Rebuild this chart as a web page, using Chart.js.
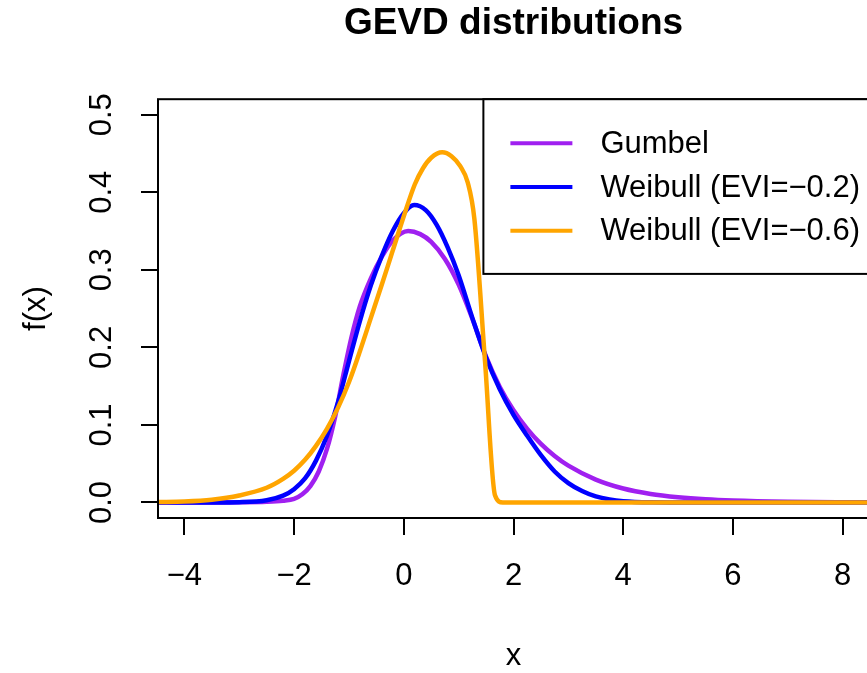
<!DOCTYPE html>
<html>
<head>
<meta charset="utf-8">
<title>GEVD distributions</title>
<script src="https://cdn.jsdelivr.net/npm/chart.js@4/dist/chart.umd.min.js"></script>
<style>
  html, body { margin: 0; padding: 0; background: #ffffff; overflow: hidden; }
  #wrap { width: 880px; height: 673px; position: relative; }
</style>
</head>
<body>
<div id="wrap"><canvas id="c" width="880" height="673"></canvas></div>
<script>
// Density curves of three GEV members
const seriesNames = ['Gumbel', 'Weibull (EVI=\u22120.2)', 'Weibull (EVI=\u22120.6)'];
const seriesColors = ['#A020F0', '#0000FF', '#FFA500'];

const gumbelX = [-4.5, -3.5, -3, -2.5, -2.2, -2, -1.85, -1.7, -1.55, -1.4,
                 -1.25, -1.1, -0.95, -0.8, -0.6, -0.4, -0.2, 0.08, 0.3, 0.5,
                 0.75, 1, 1.25, 1.5, 1.75, 2, 2.25, 2.5, 2.75, 3,
                 3.5, 4, 4.5, 5, 5.5, 6, 7, 8, 8.5];
const gumbelY = [0, 0, 0.0002, 0.0008, 0.0022, 0.0046, 0.0105, 0.0215, 0.040, 0.069,
                 0.111, 0.165, 0.214, 0.253, 0.289, 0.317, 0.338, 0.350, 0.346, 0.336,
                 0.314, 0.281, 0.237, 0.188, 0.149, 0.119, 0.095, 0.0755, 0.060, 0.0475,
                 0.0295, 0.018, 0.011, 0.0068, 0.0041, 0.0025, 0.0009, 0.0003, 0.0002];

const weibull02X = [-4.5, -3.5, -3, -2.5, -2.2, -2, -1.8, -1.6, -1.4, -1.2,
                    -1, -0.8, -0.6, -0.4, -0.2, 0, 0.19, 0.4, 0.6, 0.8,
                    1, 1.25, 1.5, 1.75, 2, 2.25, 2.5, 2.75, 3, 3.25,
                    3.5, 3.75, 4, 4.5, 5, 6, 7, 8, 8.5];
const weibull02Y = [0, 0.0001, 0.0004, 0.0028, 0.0088, 0.0172, 0.031, 0.054, 0.086, 0.129,
                    0.182, 0.234, 0.280, 0.318, 0.350, 0.373, 0.3835, 0.377, 0.358, 0.329,
                    0.293, 0.238, 0.187, 0.146, 0.113, 0.086, 0.061, 0.040, 0.025, 0.0148,
                    0.0078, 0.0038, 0.0016, 0.0002, 0, 0, 0, 0, 0];

const weibull06X = [-4.5, -4, -3.5, -3, -2.5, -2.2, -2, -1.8, -1.6, -1.4,
                    -1.2, -1, -0.8, -0.6, -0.4, -0.2, 0, 0.2, 0.35, 0.5,
                    0.7, 0.87, 1.03, 1.166, 1.287, 1.48, 1.664, 1.805, 2, 3,
                    4, 5, 6, 7, 8, 8.5];
const weibull06Y = [0.0005, 0.0012, 0.0035, 0.009, 0.019, 0.0305, 0.041, 0.055, 0.073, 0.095,
                    0.122, 0.155, 0.195, 0.238, 0.281, 0.325, 0.369, 0.410, 0.431, 0.4445,
                    0.4515, 0.4465, 0.4336, 0.4126, 0.3655, 0.183, 0.009, 0, 0, 0,
                    0, 0, 0, 0, 0, 0];

const xTicks = [-4, -2, 0, 2, 4, 6, 8];
const xTickLabels = ['\u22124', '\u22122', '0', '2', '4', '6', '8'];
const yTicks = [0, 0.1, 0.2, 0.3, 0.4, 0.5];
const yTickLabels = ['0.0', '0.1', '0.2', '0.3', '0.4', '0.5'];

const FONT = "'Liberation Sans', Arial, Helvetica, sans-serif";
const BASE = 31;

const toPoints = (xs, ys) => xs.map((x, i) => ({ x: x, y: ys[i] }));
const seriesData = [
  toPoints(gumbelX, gumbelY),
  toPoints(weibull02X, weibull02Y),
  toPoints(weibull06X, weibull06Y)
];

// frame around the plotting region plus an inset legend in the top-right corner
const frameAndLegend = {
  id: 'frameAndLegend',
  afterDatasetsDraw(chart) {
    const { ctx, chartArea: ca } = chart;
    ctx.save();
    ctx.strokeStyle = '#000';
    ctx.lineWidth = 2;
    ctx.strokeRect(ca.left, ca.top, ca.right - ca.left, ca.bottom - ca.top);

    ctx.font = BASE + 'px ' + FONT;
    const sets = chart.data.datasets;
    const textW = Math.max(...sets.map(d => ctx.measureText(d.label).width));
    const inset = 27, lineLen = 62, gap = 28, rightPad = 9;
    const topPad = 44, rowH = 43.8, bottomPad = 43.1;
    const w = inset + lineLen + gap + textW + rightPad;
    const h = topPad + rowH * (sets.length - 1) + bottomPad;
    const left = ca.right - w, top = ca.top;
    ctx.fillStyle = '#fff';
    ctx.fillRect(left, top, w, h);
    ctx.strokeRect(left, top, w, h);
    sets.forEach((d, i) => {
      const y = top + topPad + i * rowH;
      ctx.strokeStyle = d.borderColor;
      ctx.lineWidth = 4;
      ctx.lineCap = 'butt';
      ctx.beginPath();
      ctx.moveTo(left + inset, y);
      ctx.lineTo(left + inset + lineLen, y);
      ctx.stroke();
      ctx.fillStyle = '#000';
      ctx.textAlign = 'left';
      ctx.textBaseline = 'middle';
      ctx.fillText(d.label, left + inset + lineLen + gap, y + 1);
    });
    ctx.restore();
  }
};

new Chart(document.getElementById('c'), {
  type: 'line',
  data: {
    datasets: seriesNames.map((name, i) => ({
      label: name,
      data: seriesData[i],
      borderColor: seriesColors[i],
      backgroundColor: seriesColors[i],
      borderWidth: 4.5,
      pointRadius: 0,
      fill: false,
      cubicInterpolationMode: 'monotone',
      borderJoinStyle: 'round',
      borderCapStyle: 'round',
      order: 3 - i
    }))
  },
  options: {
    responsive: false,
    animation: false,
    devicePixelRatio: 1,
    layout: { padding: { left: 0, right: 11, top: 0, bottom: 0 } },
    plugins: {
      legend: { display: false },
      tooltip: { enabled: false },
      title: {
        display: true,
        text: 'GEVD distributions',
        fullSize: false,
        color: '#000',
        font: { family: FONT, size: 37, weight: 'bold' },
        padding: { top: 1.4, bottom: 53.4 }
      }
    },
    scales: {
      x: {
        type: 'linear',
        position: 'bottom',
        min: -4.48,
        max: 8.48,
        afterBuildTicks: ax => { ax.ticks = xTicks.map(v => ({ value: v })); },
        afterFit: ax => { ax.height = 155; },
        ticks: {
          callback: (v, i) => xTickLabels[i],
          color: '#000',
          font: { family: FONT, size: BASE },
          padding: 23,
          maxRotation: 0,
          autoSkip: false
        },
        grid: { display: true, drawOnChartArea: false, drawTicks: true, tickLength: 17, color: '#000', lineWidth: 2 },
        border: { display: false },
        title: { display: true, text: 'x', color: '#000', font: { family: FONT, size: BASE }, padding: { top: 0, bottom: -2 } }
      },
      y: {
        type: 'linear',
        position: 'left',
        min: -0.02,
        max: 0.52,
        afterBuildTicks: ax => { ax.ticks = yTicks.map(v => ({ value: v })); },
        afterFit: ax => { ax.width = 158; },
        ticks: {
          callback: (v, i) => yTickLabels[i],
          color: '#000',
          font: { family: FONT, size: BASE },
          minRotation: 90,
          maxRotation: 90,
          crossAlign: 'center',
          padding: 17,
          autoSkip: false
        },
        grid: { display: true, drawOnChartArea: false, drawTicks: true, tickLength: 17, color: '#000', lineWidth: 2 },
        border: { display: false },
        title: { display: true, text: 'f(x)', color: '#000', font: { family: FONT, size: BASE }, padding: { top: 18, bottom: 0 } }
      }
    }
  },
  plugins: [frameAndLegend]
});
</script>
</body>
</html>
